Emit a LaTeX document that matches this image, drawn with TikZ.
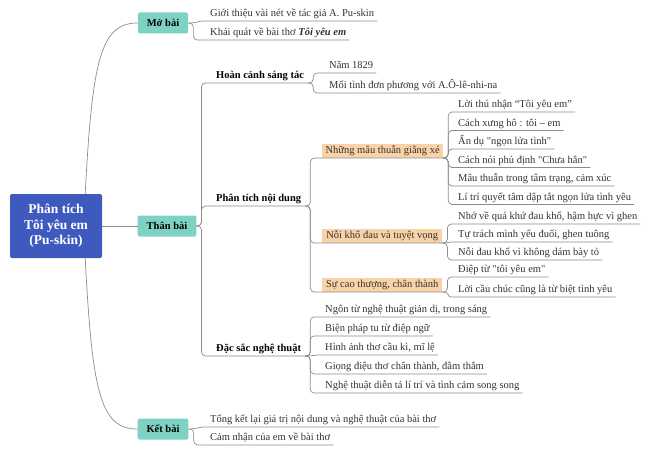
\documentclass[tikz,border=0pt]{standalone}
\usepackage{fontspec}
\setmainfont{Liberation Serif}
\usepackage{xcolor}
\usepackage{tikz}
\usetikzlibrary{positioning,calc}

\definecolor{rootblue}{RGB}{62,90,190}
\definecolor{partteal}{RGB}{126,210,196}
\definecolor{peach}{RGB}{250,210,168}
\definecolor{linegray}{RGB}{140,140,140}
\definecolor{inkgray}{RGB}{50,50,50}

\newcommand{\dq}{\textquotedbl}

\tikzset{
  rootbox/.style={fill=rootblue, rounded corners=2pt, text=white, align=center, minimum width=92pt, minimum height=64pt, font=\fontsize{13.5}{15.5}\selectfont\bfseries},
  partbox/.style={fill=partteal, rounded corners=1.5pt, inner xsep=9pt, minimum height=21pt, font=\fontsize{10.5}{12}\selectfont\bfseries},
  head/.style={anchor=south west, inner xsep=4pt, inner ysep=1.5pt, text height=7.5pt, text depth=2.5pt, font=\fontsize{10.5}{12}\selectfont\bfseries},
  leaf/.style={anchor=south west, inner xsep=3pt, inner ysep=1.5pt, text height=7.5pt, text depth=2.5pt, text=inkgray, font=\fontsize{10.5}{12}\selectfont},
  theme/.style={anchor=south west, fill=peach, minimum width=120pt, inner ysep=2pt, text height=7.5pt, text depth=2.5pt, text=inkgray, font=\fontsize{10.5}{12}\selectfont},
  link/.style={draw=linegray, line width=0.7pt, rounded corners=4pt},
}

\begin{document}
\begin{tikzpicture}[x=1pt, y=-1pt]
    \useasboundingbox (0,0) rectangle (650,452);
    % centre and the three parts
    \node[rootbox] (root) at (56,226) {Phân tích\\Tôi yêu em\\(Pu-skin)};
    \node[partbox] (intro) at (163,23) {Mở bài};
    \node[partbox] (body) at (167,226) {Thân bài};
    \node[partbox] (close) at (163,429) {Kết bài};
    \draw[link] (root.east) -- (body.west);
    \draw[link] ([xshift=-17pt]root.north east) .. controls +(7,-134) and +(-37,0) .. (intro.west);
    \draw[link] ([xshift=-17pt]root.south east) .. controls +(7,134) and +(-37,0) .. (close.west);

    % Mở bài
    \node[leaf] (intro1) at (207,21) {Giới thiệu vài nét về tác giả A. Pu-skin};
    \node[leaf] (intro2) at (207,40) {Khái quát về bài thơ \textbf{\itshape Tôi yêu em}};
    \draw[link] (intro.east) .. controls +(8,0) and +(-8,0) .. (intro1.south west) -- (intro1.south east);
    \draw[link] (intro.east) -- ++(5,0) |- (intro2.south west) -- (intro2.south east);

    % Thân bài
    \node[head] (context) at (212,83) {Hoàn cảnh sáng tác};
    \node[head] (content) at (212,206) {Phân tích nội dung};
    \node[head] (art) at (212,356) {Đặc sắc nghệ thuật};
    \foreach \n in {context,content,art}
        \draw[link] (body.east) -- ++(5,0) |- (\n.south west) -- (\n.south east);

    \node[leaf] (ctx1) at (326,73) {Năm 1829};
    \node[leaf] (ctx2) at (326,93) {Mối tình đơn phương với A.Ô-lê-nhi-na};
    \foreach \n in {ctx1,ctx2}
        \draw[link] (context.south east) -- ++(5,0) |- (\n.south west) -- (\n.south east);

    \node[theme] (conflict) at (322,158) {Những mâu thuẫn giằng xé};
    \node[theme] (pain) at (322,243) {Nỗi khổ đau và tuyệt vọng};
    \node[theme] (noble) at (322,292) {Sự cao thượng, chân thành};
    \foreach \n in {conflict,pain,noble}
        \draw[link] (content.south east) -- ++(5,0) |- (\n.south west) -- (\n.south east);

    \foreach \t [count=\i] in {{Lời thú nhận “Tôi yêu em”}, {Cách xưng hô : tôi – em}, {Ẩn dụ \dq ngọn lửa tình\dq},
        {Cách nói phủ định \dq Chưa hẳn\dq}, {Mâu thuẫn trong tâm trạng, cảm xúc}, {Lí trí quyết tâm dập tắt ngọn lửa tình yêu}}
        \node[leaf] (conf\i) at (455,{93.5+18.5*\i}) {\t};
    \foreach \i in {1,...,6}
        \draw[link] (conflict.south east) -- ++(5,0) |- (conf\i.south west) -- (conf\i.south east);

    \foreach \t [count=\i] in {{Nhớ về quá khứ đau khổ, hậm hực vì ghen}, {Tự trách mình yếu đuối, ghen tuông}, {Nỗi đau khổ vì không dám bày tỏ}}
        \node[leaf] (pain\i) at (455,{206+18*\i}) {\t};
    \foreach \i in {1,3}
        \draw[link] (pain.south east) -- ++(5,0) |- (pain\i.south west) -- (pain\i.south east);
    \draw[link] (pain.south east) .. controls +(8,0) and +(-8,0) .. (pain2.south west) -- (pain2.south east);

    \node[leaf] (noble1) at (455,277) {Điệp từ \dq tôi yêu em\dq};
    \node[leaf] (noble2) at (455,297) {Lời cầu chúc cũng là từ biệt tình yêu};
    \draw[link] (noble.south east) -- ++(5,0) |- (noble1.south west) -- (noble1.south east);
    \draw[link] (noble.south east) .. controls +(8,0) and +(-8,0) .. (noble2.south west) -- (noble2.south east);

    \foreach \t [count=\i] in {{Ngôn từ nghệ thuật giản dị, trong sáng}, {Biện pháp tu từ điệp ngữ}, {Hình ảnh thơ cầu kì, mĩ lệ},
        {Giọng điệu thơ chân thành, đằm thắm}, {Nghệ thuật diễn tả lí trí và tình cảm song song}}
        \node[leaf] (art\i) at (322,{298+19*\i}) {\t};
    \foreach \i in {1,2,4,5}
        \draw[link] (art.south east) -- ++(5,0) |- (art\i.south west) -- (art\i.south east);
    \draw[link] (art.south east) .. controls +(8,0) and +(-8,0) .. (art3.south west) -- (art3.south east);

    % Kết bài
    \node[leaf] (close1) at (207,427) {Tổng kết lại giá trị nội dung và nghệ thuật của bài thơ};
    \node[leaf] (close2) at (207,445) {Cảm nhận của em về bài thơ};
    \draw[link] (close.east) .. controls +(8,0) and +(-8,0) .. (close1.south west) -- (close1.south east);
    \draw[link] (close.east) -- ++(5,0) |- (close2.south west) -- (close2.south east);
\end{tikzpicture}
\end{document}
